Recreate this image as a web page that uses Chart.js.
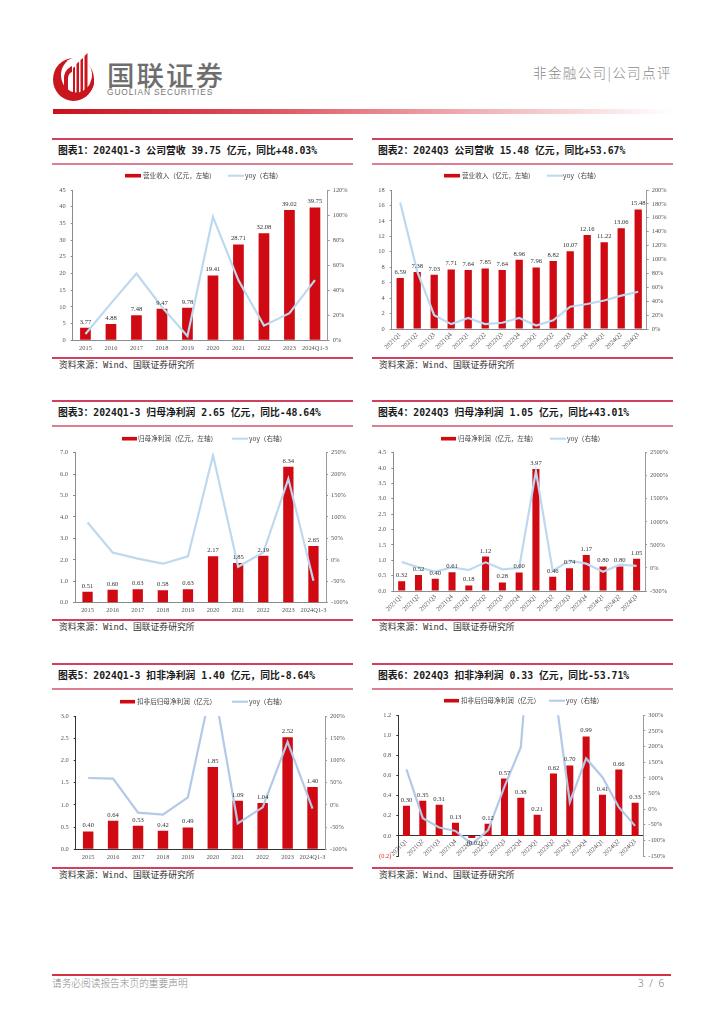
<!DOCTYPE html>
<html lang="zh">
<head>
<meta charset="utf-8">
<title>国联证券 非金融公司|公司点评</title>
<script src="https://cdn.jsdelivr.net/npm/chart.js@4"></script>
<style>
html,body{margin:0;padding:0;background:#fff;width:724px;height:1024px;overflow:hidden}
#page{position:relative;width:724px;height:1024px;font-family:"Noto Sans CJK SC",sans-serif}
#page>*{position:absolute}
.rule{height:2px;background:#d1405f}
.title{font:700 9.8px/16px "DejaVu Sans Mono","Noto Sans CJK SC",sans-serif;color:#1a1a1a;white-space:pre}
.src{font:400 8.8px/12px "DejaVu Sans Mono","Noto Sans CJK SC",sans-serif;color:#333;white-space:pre}
canvas{position:absolute}
</style>
</head>
<body>
<div id="page">
  <svg style="left:50px;top:50px" width="48" height="54" viewBox="50 50 48 54">
    <ellipse cx="73.5" cy="79.5" rx="20.5" ry="21.5" fill="#c9151e"/>
    <ellipse cx="76.5" cy="75" rx="15.5" ry="17.5" fill="#fff"/>
    <path d="M91 80 L94 78 V84 C92 92 86 98 78 100 C85 95 90 88 91 80Z" fill="#c9151e"/>
    <path d="M64 92 V78 C64 72 68 68 72 66 V72 C69 73 68 76 68 79 V95Z" fill="#c9151e"/>
    <path d="M73 99 V68 L75 66.5 V100Z M76.5 100 V64 L79 61.5 V100Z M80.5 99 V60 L83 58 V98Z M84.5 96 V56 L87.5 53 V93Z" fill="#c9151e"/>
  </svg>
  <div style="left:107px;top:55px;font:500 27.5px/38px 'Noto Sans CJK SC';letter-spacing:2px;color:#6e6e6e;white-space:pre">国联证券</div>
  <div style="left:107px;top:87px;font:400 8.4px/11px 'Liberation Sans';letter-spacing:.88px;color:#777;white-space:pre">GUOLIAN SECURITIES</div>
  <div style="left:533px;top:62px;font:300 13.6px/20px 'Noto Sans CJK SC';letter-spacing:1.3px;color:#8a8a8a;white-space:pre">非金融公司|公司点评</div>
  <div style="left:53px;top:109px;width:620px;height:5px;background:linear-gradient(90deg,#c9101c 0%,#dd5560 35%,#f0b0b4 68%,#ffffff 100%)"></div>
  <div class="rule" style="left:52px;top:974px;width:619px;background:#d5323f"></div>
  <div style="left:52px;top:976px;font:300 9.7px/14px 'Noto Sans CJK SC';color:#8a8a8a;white-space:pre">请务必阅读报告末页的重要声明</div>
  <div style="left:638px;top:976px;font:300 10px/14px 'Noto Sans';word-spacing:3px;color:#777;white-space:pre">3 / 6</div>
</div>
<script>
const annualYears = ["2015","2016","2017","2018","2019","2020","2021","2022","2023","2024Q1-3"];
const quarters = ["2021Q1","2021Q2","2021Q3","2021Q4","2022Q1","2022Q2","2022Q3","2022Q4","2023Q1","2023Q2","2023Q3","2023Q4","2024Q1","2024Q2","2024Q3"];

const revenueAnnual = [3.77,4.88,7.48,9.47,9.78,19.41,28.71,32.08,39.02,39.75];
const revenueAnnualYoy = [5,29.5,53.3,26.6,3.3,98.5,47.9,11.7,21.6,48.03];
const revenueQuarter = [6.59,7.38,7.03,7.71,7.64,7.85,7.64,8.96,7.96,8.82,10.07,12.16,11.22,13.06,15.48];
const revenueQuarterYoy = [182,83,20,7,16,7,9,16,5,12.5,32,36,41,48,53.67];
const profitAnnual = [0.51,0.60,0.63,0.58,0.63,2.17,1.85,2.19,6.34,2.65];
const profitAnnualYoy = [87,17,3,-9,8,244,-16,17,189,-48.64];
const profitQuarter = [0.32,0.52,0.40,0.61,0.18,1.12,0.28,0.60,3.97,0.46,0.74,1.17,0.80,0.80,1.05];
const profitQuarterYoy = [129,13,-81,13,-44,122,-30,-1,2096,-66,158,93,-81,71,43.01];
const coreAnnual = [0.40,0.64,0.53,0.42,0.49,1.85,1.09,1.04,2.52,1.40];
const coreAnnualYoy = [60.5,59,-17.5,-22,17,280,-41.5,-5.5,142,-8.64];
const coreQuarter = [0.30,0.35,0.31,0.13,-0.02,0.12,0.57,0.38,0.21,0.62,0.70,0.99,0.41,0.66,0.33];
const coreQuarterYoy = [127,-29,-59,-70,-112,-67,72,198,840,411,22,162,102,6,-53.71];

const titles = [
  "图表1：2024Q1-3 公司营收 39.75 亿元，同比+48.03%",
  "图表2：2024Q3 公司营收 15.48 亿元，同比+53.67%",
  "图表3：2024Q1-3 归母净利润 2.65 亿元，同比-48.64%",
  "图表4：2024Q3 归母净利润 1.05 亿元，同比+43.01%",
  "图表5：2024Q1-3 扣非净利润 1.40 亿元，同比-8.64%",
  "图表6：2024Q3 扣非净利润 0.33 亿元，同比-53.71%"
];
const sourceText = "资料来源：Wind、国联证券研究所";
const legendRevenue = "营业收入（亿元，左轴）";
const legendProfit = "归母净利润（亿元，左轴）";
const legendCore = "扣非后归母净利润（亿元）";
const legendYoy = "yoy（右轴）";

const RED = "#d00a12", BLUE = "#bdd8ef", BLUE2 = "#b4c8e8";
const fontSerif = '"Liberation Serif",serif';

const legendPlugin = {
  id: "fixedLegend",
  afterDraw(chart, args, o) {
    const c = chart.ctx; const ds = chart.data.datasets;
    c.save();
    c.textBaseline = "middle"; c.textAlign = "left";
    c.font = '6.6px "Noto Sans CJK SC"';
    c.fillStyle = RED; c.fillRect(o.bar[0], o.y - 1.8, o.bar[1] - o.bar[0], 3.6);
    c.fillStyle = "#444"; c.fillText(ds[0].label, o.bar[2], o.y);
    c.fillStyle = ds[1].borderColor; c.fillRect(o.line[0], o.y - 1, o.line[1] - o.line[0], 2);
    c.fillStyle = "#444"; c.fillText(ds[1].label, o.line[2], o.y);
    c.restore();
  }
};
const valueLabels = {
  id: "valueLabels",
  afterDatasetsDraw(chart) {
    const c = chart.ctx, meta = chart.getDatasetMeta(0), vals = chart.data.datasets[0].data;
    c.save();
    c.font = "6.6px " + fontSerif; c.textAlign = "center"; c.fillStyle = "#333";
    meta.data.forEach((el, i) => {
      const v = vals[i];
      if (v >= 0) { c.textBaseline = "bottom"; c.fillText(v.toFixed(2), el.x, el.y - 2.5); }
      else { c.textBaseline = "top"; c.fillText("(" + Math.abs(v).toFixed(2) + ")", el.x + 3, el.base + 4); }
    });
    c.restore();
  }
};

function panel(i, opt) {
  const page = document.getElementById("page");
  const add = (cls, css, txt) => { const d = document.createElement("div"); d.className = cls; d.style.cssText = css; if (txt) d.textContent = txt; page.appendChild(d); };
  const rx = opt.col === 0 ? 52 : 372, rw = 301;
  add("rule", `left:${rx}px;top:${opt.titleY - 13}px;width:${rw}px`);
  add("rule", `left:${rx}px;top:${opt.titleY + 12}px;width:${rw}px;background:#dc7f93`);
  add("title", `left:${rx + 6}px;top:${opt.titleY - 8}px`, titles[i]);
  add("rule", `left:${rx}px;top:${opt.srcY - 7}px;width:${rw}px`);
  add("src", `left:${rx + 7}px;top:${opt.srcY - 5.5}px`, sourceText);

  const cv = document.createElement("canvas");
  const cx = rx, cy = opt.titleY + 15, cw = 304, ch = opt.srcY - 8 - cy;
  cv.width = cw; cv.height = ch;
  cv.style.cssText = `left:${cx}px;top:${cy}px;width:${cw}px;height:${ch}px`;
  page.appendChild(cv);

  const [pl, pr, pt, pb] = opt.plot;
  const leg = { bar: opt.legendBar.map(v => v - cx), line: opt.legendLine.map(v => v - cx), y: opt.legendY - cy };
  const tickFont = { family: fontSerif, size: 6.4 };
  const axisDark = opt.dark ? "#333" : "#8c8c8c";
  const isNeg = v => v < -1e-9;
  new Chart(cv, {
    data: {
      labels: opt.labels,
      datasets: [
        { type: "bar", label: opt.legendLabel, data: opt.bars, yAxisID: "y", backgroundColor: RED,
          barPercentage: opt.barPct, categoryPercentage: 1, order: 1 },
        { type: "line", label: legendYoy, data: opt.yoy, yAxisID: "y1", borderColor: opt.lineColor, backgroundColor: opt.lineColor,
          borderWidth: 2.2, pointRadius: 0, tension: 0, order: 0 }
      ]
    },
    options: {
      responsive: false, animation: false, devicePixelRatio: 1,
      layout: { padding: { left: 0, right: 0, top: pt - cy, bottom: opt.zeroAxis ? cy + ch - pb : 0 } },
      plugins: { legend: { display: false }, tooltip: { enabled: false }, fixedLegend: leg },
      scales: {
        x: {
          position: opt.zeroAxis ? { y: 0 } : "bottom",
          afterFit: s => { if (!opt.zeroAxis) s.height = cy + ch - pb; },
          grid: { display: true, drawOnChartArea: false, drawTicks: false, color: axisDark },
          border: { color: axisDark, width: 1 },
          ticks: { autoSkip: false, maxRotation: opt.rot, minRotation: opt.rot, padding: opt.rot ? 2 : 4, color: "#555", font: tickFont }
        },
        y: {
          position: "left", min: opt.left[0], max: opt.left[1],
          afterFit: s => { s.width = pl - cx; },
          grid: { drawOnChartArea: false, tickLength: 2, color: axisDark },
          border: { color: axisDark, width: 1 },
          ticks: { stepSize: opt.left[2], padding: 5, font: tickFont,
            color: c => isNeg(c.tick.value) ? "#e2202a" : "#555",
            callback: v => isNeg(v) ? "(" + Math.abs(v).toFixed(opt.left[3]) + ")" : Math.abs(v).toFixed(opt.left[3]) }
        },
        y1: {
          position: "right", min: opt.right[0], max: opt.right[1],
          afterFit: s => { s.width = cx + cw - pr; },
          grid: { drawOnChartArea: false, tickLength: 2, color: "#9a9a9a" },
          border: { color: "#9a9a9a", width: 1 },
          ticks: { stepSize: opt.right[2], padding: 3, color: "#555", font: tickFont, callback: v => v + "%" }
        }
      }
    },
    plugins: [legendPlugin, valueLabels]
  });
}

panel(0, { col:0, titleY:151, srcY:364, plot:[72.7,327.7,190,340.3], labels:annualYears, bars:revenueAnnual, yoy:revenueAnnualYoy,
  left:[0,45,5,0], right:[0,120,20], rot:0, barPct:.42, legendLabel:legendRevenue, lineColor:BLUE,
  legendBar:[125,141,143], legendLine:[228,244,245], legendY:175.7 });
panel(1, { col:1, titleY:151, srcY:364, plot:[391.7,646.7,190,329], labels:quarters, bars:revenueQuarter, yoy:revenueQuarterYoy,
  left:[0,18,2,0], right:[0,200,20], rot:45, barPct:.43, legendLabel:legendRevenue, lineColor:BLUE,
  legendBar:[444,460,462], legendLine:[547,563,563], legendY:175.7 });
panel(2, { col:0, titleY:413, srcY:626, plot:[75,326,452.7,602.7], labels:annualYears, bars:profitAnnual, yoy:profitAnnualYoy,
  left:[0,7,1,1], right:[-100,250,50], rot:0, barPct:.41, legendLabel:legendProfit, lineColor:BLUE,
  legendBar:[122,137,138], legendLine:[232,248,249], legendY:438.7 });
panel(3, { col:1, titleY:413, srcY:626, plot:[393.3,645,452.7,591], labels:quarters, bars:profitQuarter, yoy:profitQuarterYoy,
  left:[0,4.5,.5,1], right:[-500,2500,500], rot:45, barPct:.42, legendLabel:legendProfit, lineColor:BLUE,
  legendBar:[441,456,458], legendLine:[550,566,567], legendY:438.7 });
panel(4, { col:0, titleY:676, srcY:874, plot:[75.7,325,716,849.3], labels:annualYears, bars:coreAnnual, yoy:coreAnnualYoy,
  left:[0,3,.5,1], right:[-100,200,50], rot:0, barPct:.42, legendLabel:legendCore, lineColor:BLUE2, dark:true,
  legendBar:[120,135,137], legendLine:[232,248,249], legendY:701.7 });
panel(5, { col:1, titleY:676, srcY:874, plot:[398.3,643.3,715.3,856], labels:quarters, bars:coreQuarter, yoy:coreQuarterYoy,
  left:[-.2,1.2,.2,1], right:[-150,300,50], rot:45, barPct:.43, legendLabel:legendCore, lineColor:BLUE2, dark:true, zeroAxis:true,
  legendBar:[444,459,461], legendLine:[549,565,566], legendY:700.7 });
</script>
</body>
</html>
